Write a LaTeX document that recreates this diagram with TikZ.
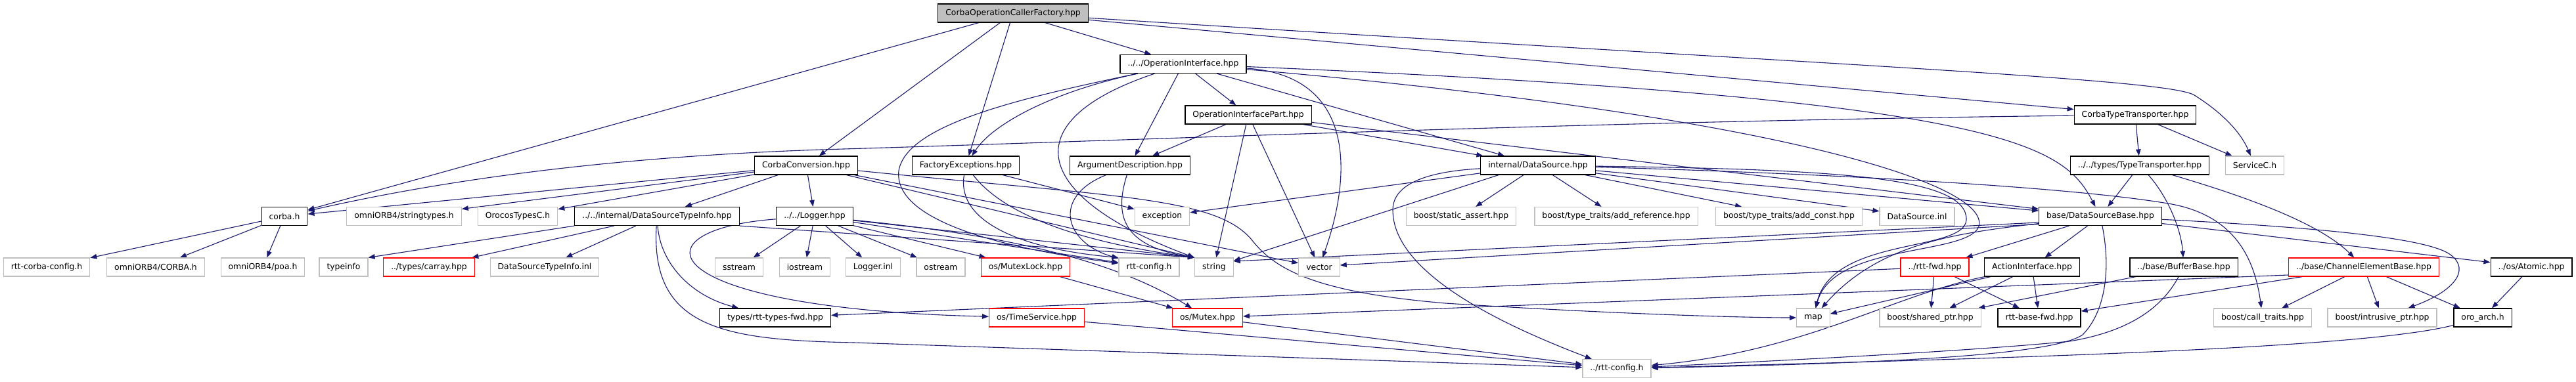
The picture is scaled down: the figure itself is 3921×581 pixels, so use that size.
\documentclass[tikz,border=0pt]{standalone}
\usepackage{fontspec}
\setmainfont{DejaVu Sans}
\usetikzlibrary{arrows.meta}
\definecolor{edgeblue}{HTML}{191970}
\definecolor{extgray}{HTML}{BFBFBF}
\definecolor{rootgray}{HTML}{BFBFBF}
\definecolor{badred}{HTML}{FF0000}
\pgfdeclarelayer{bg}
\pgfdeclarelayer{edges}
\pgfsetlayers{bg,edges,main}
\begin{document}
\begin{tikzpicture}[x=1pt,y=-1pt,
  box/.style={rectangle, minimum height=28pt, inner xsep=11.5pt, inner ysep=0pt, fill=white, line width=1.2pt, font=\fontsize{12.4pt}{14pt}\selectfont, text=black},
  doc/.style={box, draw=black},
  ext/.style={box, draw=extgray},
  bad/.style={box, draw=badred},
  rootbox/.style={box, draw=black, fill=rootgray},
  dep/.style={draw=edgeblue, line width=1.1pt, -{Triangle[length=10pt,width=7.5pt]}},
]
\useasboundingbox (0,0) rectangle (3921,581);
\begin{pgfonlayer}{bg}
\fill[white] (0,0) rectangle (3921,581);
\end{pgfonlayer}
% row 0
\node[rootbox] (root) at (1542,20) {CorbaOperationCallerFactory.hpp};
% row 1
\node[doc] (OI) at (1801,97.5) {../../OperationInterface.hpp};
% row 2
\node[doc] (OIP) at (1900,175) {OperationInterfacePart.hpp};
\node[doc] (CTT) at (3250,175) {CorbaTypeTransporter.hpp};
% row 3
\node[doc] (CC) at (1227,252) {CorbaConversion.hpp};
\node[doc] (FE) at (1470,252) {FactoryExceptions.hpp};
\node[doc] (AD) at (1720,252) {ArgumentDescription.hpp};
\node[doc] (IDS) at (2341,252) {internal/DataSource.hpp};
\node[doc] (TT) at (3257,252) {../../types/TypeTransporter.hpp};
\node[ext] (SC) at (3432,252) {ServiceC.h};
% row 4
\node[doc] (corba) at (433,329.5) {corba.h};
\node[ext] (strt) at (615,329.5) {omniORB4/stringtypes.h};
\node[ext] (otc) at (788,329.5) {OrocosTypesC.h};
\node[doc] (DSTI) at (1000,329.5) {../../internal/DataSourceTypeInfo.hpp};
\node[doc] (Logger) at (1240,329.5) {../../Logger.hpp};
\node[ext] (exc) at (1769,329.5) {exception};
\node[ext] (sa) at (2224,329.5) {boost/static\_assert.hpp};
\node[ext] (aref) at (2460,329.5) {boost/type\_traits/add\_reference.hpp};
\node[ext] (aconst) at (2723,329.5) {boost/type\_traits/add\_const.hpp};
\node[ext] (dsinl) at (2918,329.5) {DataSource.inl};
\node[doc] (DSB) at (3197,329.5) {base/DataSourceBase.hpp};
% row 5
\node[ext] (rcc) at (71,407) {rtt-corba-config.h};
\node[ext] (ocorba) at (237,407) {omniORB4/CORBA.h};
\node[ext] (poa) at (400,407) {omniORB4/poa.h};
\node[ext] (tinfo) at (523,407) {typeinfo};
\node[bad] (carray) at (653,407) {../types/carray.hpp};
\node[ext] (dstiinl) at (829,407) {DataSourceTypeInfo.inl};
\node[ext] (sstream) at (1125,407) {sstream};
\node[ext] (iostream) at (1225,407) {iostream};
\node[ext] (loginl) at (1329,407) {Logger.inl};
\node[ext] (ostream) at (1432,407) {ostream};
\node[bad] (mlock) at (1561,407) {os/MutexLock.hpp};
\node[ext] (rcfg) at (1749,407) {rtt-config.h};
\node[ext] (string) at (1848,407) {string};
\node[ext] (vector) at (2008,407) {vector};
\node[bad] (rfwd) at (2945,407) {../rtt-fwd.hpp};
\node[doc] (AI) at (3093,407) {ActionInterface.hpp};
\node[doc] (BB) at (3324,407) {../base/BufferBase.hpp};
\node[bad] (CEB) at (3598,407) {../base/ChannelElementBase.hpp};
\node[doc] (atomic) at (3853,407) {../os/Atomic.hpp};
% row 6
\node[doc] (rtf) at (1180,484) {types/rtt-types-fwd.hpp};
\node[bad] (tserv) at (1578,484) {os/TimeService.hpp};
\node[bad] (mutex) at (1838,484) {os/Mutex.hpp};
\node[ext] (map) at (2760,484) {map};
\node[ext] (sptr) at (2938,484) {boost/shared\_ptr.hpp};
\node[doc] (rbf) at (3104,484) {rtt-base-fwd.hpp};
\node[ext] (ctr) at (3444,484) {boost/call\_traits.hpp};
\node[ext] (iptr) at (3626,484) {boost/intrusive\_ptr.hpp};
\node[doc] (oro) at (3779,484) {oro\_arch.h};
% row 7
\node[ext] (rcfg2) at (2461,561.5) {../rtt-config.h};

\begin{pgfonlayer}{edges}
% root
\draw[dep] (root) -- (corba);
\draw[dep] (root) -- (CC);
\draw[dep] (root) -- (FE);
\draw[dep] (root) -- (OI);
\draw[dep] (root) -- (CTT);
\draw[dep] (root) .. controls (2800,100) and (3300,120) .. (3340,145) .. controls (3380,170) and (3410,200) .. (SC);
% OperationInterface
\draw[dep] (OI) -- (OIP);
\draw[dep] (OI) -- (AD);
\draw[dep] (OI) -- (IDS);
\draw[dep] (OI) .. controls (1600,140) and (1510,190) .. (FE);
\draw[dep] (OI) .. controls (1540,185) and (1570,300) .. (string.north west);
\draw[dep] (OI) .. controls (1550,150) and (1380,190) .. (1368,260) .. controls (1360,330) and (1500,375) .. (rcfg);
\draw[dep] (OI) .. controls (2060,115) and (2060,260) .. (vector);
\draw[dep] (OI) .. controls (3050,150) and (3140,220) .. (DSB);
\draw[dep] (OI) .. controls (2700,175) and (3030,280) .. (3012,345) .. controls (2995,390) and (2790,370) .. (map);
% OperationInterfacePart
\draw[dep] (OIP) -- (AD);
\draw[dep] (OIP) -- (string);
\draw[dep] (OIP) -- (vector);
\draw[dep] (OIP) -- (IDS);
\draw[dep] (OIP) -- (DSB);
% CorbaTypeTransporter
\draw[dep] (CTT) .. controls (2400,185) and (1700,215) .. (1250,228) .. controls (900,240) and (650,280) .. (corba);
\draw[dep] (CTT) -- (TT);
\draw[dep] (CTT) -- (SC);
% CorbaConversion
\draw[dep] (CC) -- (corba);
\draw[dep] (CC) -- (strt);
\draw[dep] (CC) -- (otc);
\draw[dep] (CC) -- (DSTI);
\draw[dep] (CC) -- (Logger);
\draw[dep] (CC) -- (string.north west);
\draw[dep] (CC) -- (vector);
\draw[dep] (CC) .. controls (1700,300) and (1850,300) .. (1905,365) .. controls (1940,410) and (2000,445) .. (2200,462) .. controls (2450,478) and (2650,484) .. (map);
% FactoryExceptions
\draw[dep] (FE) -- (exc);
\draw[dep] (FE) .. controls (1530,330) and (1650,370) .. (string.north west);
\draw[dep] (FE) .. controls (1455,340) and (1560,380) .. (rcfg.north west);
% ArgumentDescription
\draw[dep] (AD) .. controls (1600,300) and (1620,370) .. (rcfg);
\draw[dep] (AD) .. controls (1695,330) and (1710,375) .. (string.north west);
% internal/DataSource
\draw[dep] (IDS) -- (sa);
\draw[dep] (IDS) -- (aref);
\draw[dep] (IDS) -- (aconst);
\draw[dep] (IDS) -- (dsinl);
\draw[dep] (IDS) -- (DSB);
\draw[dep] (IDS) -- (exc);
\draw[dep] ([xshift=-60pt]IDS.south) -- (string);
\draw[dep] (IDS) .. controls (2160,262) and (2120,285) .. (2120,320) .. controls (2120,420) and (2300,500) .. (rcfg2);
\draw[dep] (IDS) .. controls (2800,258) and (2995,270) .. (2993,335) .. controls (2990,385) and (2790,360) .. (map);
\draw[dep] (IDS) .. controls (2800,265) and (3150,285) .. (3300,310) .. controls (3390,325) and (3430,380) .. (ctr);
% DataSourceBase
\draw[dep] (DSB) -- (rfwd);
\draw[dep] (DSB) -- (AI);
\draw[dep] (DSB) -- (atomic);
\draw[dep] (DSB) .. controls (3500,345) and (3680,360) .. (3725,385) .. controls (3760,405) and (3745,440) .. (iptr);
\draw[dep] (DSB) .. controls (3215,420) and (3200,480) .. (3170,510) .. controls (3120,545) and (2800,555) .. (rcfg2);
\draw[dep] (DSB) .. controls (2980,355) and (2860,370) .. (map);
\draw[dep] ([yshift=-9.5pt]DSB.west) -- ([yshift=9pt]string.east);
\draw[dep] ([yshift=-12pt]DSB.west) -- ([yshift=3pt]vector.east);
% TypeTransporter
\draw[dep] (TT) -- (DSB);
\draw[dep] (TT) .. controls (3300,300) and (3320,350) .. (BB);
\draw[dep] (TT) .. controls (3420,300) and (3530,340) .. (CEB);
% DataSourceTypeInfo
\draw[dep] (DSTI.south west) -- (tinfo.north east);
\draw[dep] (DSTI) -- (carray);
\draw[dep] (DSTI) -- (dstiinl);
\draw[dep] (DSTI) .. controls (1005,400) and (1050,450) .. (rtf);
\draw[dep] (DSTI) .. controls (990,500) and (1100,518) .. (1300,522) -- (rcfg2);
\draw[dep] (DSTI.south east) -- (string.north west);
% Logger
\draw[dep] (Logger) -- (sstream);
\draw[dep] (Logger) -- (iostream);
\draw[dep] (Logger) -- (loginl);
\draw[dep] (Logger) -- (ostream);
\draw[dep] (Logger) -- (mlock);
\draw[dep] (Logger) -- (rcfg);
\draw[dep] (Logger) -- (string.north west);
\draw[dep] (Logger) .. controls (1550,360) and (1700,400) .. (mutex);
\draw[dep] (Logger) .. controls (960,350) and (990,470) .. (tserv);
% corba.h
\draw[dep] (corba) -- (rcc);
\draw[dep] (corba) -- (ocorba);
\draw[dep] (corba) -- (poa);
% lower level
\draw[dep] (mlock) -- (mutex);
\draw[dep] (tserv) -- (rcfg2);
\draw[dep] (mutex) -- (rcfg2);
\draw[dep] (rfwd) -- (rtf);
\draw[dep] (rfwd) -- (sptr);
\draw[dep] (rfwd) -- (rbf);
\draw[dep] (AI) -- (map);
\draw[dep] (AI) -- (sptr);
\draw[dep] (AI) -- (rbf);
\draw[dep] (AI) .. controls (2880,450) and (2750,535) .. (rcfg2);
\draw[dep] (BB) -- (sptr);
\draw[dep] (BB) .. controls (3290,470) and (3240,505) .. (3150,520) .. controls (3000,535) and (2700,550) .. (rcfg2);
\draw[dep] ([yshift=-12pt]CEB.west) -- (mutex);
\draw[dep] (CEB) -- (rbf);
\draw[dep] (CEB) -- (ctr);
\draw[dep] (CEB) -- (iptr);
\draw[dep] (CEB) -- (oro);
\draw[dep] (atomic) -- (oro);
\draw[dep] (oro) .. controls (3600,530) and (3100,545) .. (rcfg2);
\end{pgfonlayer}
\end{tikzpicture}
\end{document}
